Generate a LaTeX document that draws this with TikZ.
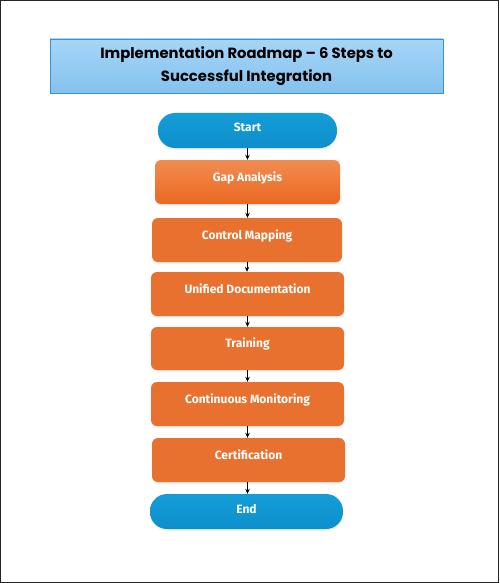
\documentclass[tikz,border=0pt]{standalone}
\usepackage{fontspec}
\setmainfont{Fira Sans}
\newfontfamily\titlefont{Poppins}
\usetikzlibrary{arrows.meta,shadows}
\definecolor{titletop}{HTML}{A6D5F8}
\definecolor{titlebot}{HTML}{84C2EE}
\definecolor{titleedge}{HTML}{3B92CC}
\definecolor{capblue}{HTML}{139DD7}
\definecolor{capblueb}{HTML}{0E8FCC}
\definecolor{boxorange}{HTML}{E8712F}
\definecolor{gaptop}{HTML}{F18C52}
\definecolor{gapbot}{HTML}{EB6820}
\tikzset{
  titlebox/.style={draw=titleedge, line width=0.9pt, top color=titletop, bottom color=titlebot,
    minimum width=393pt, minimum height=54pt, inner sep=0pt, align=center,
    font=\titlefont\bfseries\fontsize{14.8}{22.5}\selectfont},
  capbox/.style={rounded corners=17pt, top color=capblue, bottom color=capblueb, draw=none,
    minimum height=35pt, inner sep=0pt, text=white, font=\bfseries\fontsize{12}{12}\selectfont,
    drop shadow={shadow xshift=0pt, shadow yshift=-1.5pt, opacity=0.15}},
  stepbox/.style={rounded corners=6pt, fill=boxorange, draw=none,
    minimum height=44pt, inner sep=0pt, text=white, font=\bfseries\fontsize{12}{12}\selectfont,
    drop shadow={shadow xshift=0pt, shadow yshift=-1.5pt, opacity=0.15}},
  arr/.style={draw=black, line width=0.8pt, -{Stealth[length=5pt,width=4.5pt]}},
}
\newcommand{\up}[1]{\raisebox{1pt}[0pt][0pt]{#1}}
\newcommand{\upc}[1]{\raisebox{-1.5pt}[0pt][0pt]{#1}}
\begin{document}
\begin{tikzpicture}[x=1pt,y=-1pt]
\useasboundingbox (0,0) rectangle (499,583);
\draw[line width=0.9pt, black!85] (0.6,0.6) rectangle (498.2,582.2);
\node[titlebox] (title) at (246.5,66) {Implementation Roadmap – 6 Steps to\\Successful Integration};
\node[capbox, minimum width=179pt] (start) at (247.5,130.5) {\upc{Start}};
\node[stepbox, minimum width=185pt, rounded corners=6pt, fill=none, top color=gaptop, bottom color=gapbot] (gap) at (247.5,182) {\up{Gap Analysis}};
\node[stepbox, minimum width=190pt] (ctrl) at (247,240) {\up{Control Mapping}};
\node[stepbox, minimum width=193pt] (doc) at (247.5,294) {\up{Unified Documentation}};
\node[stepbox, minimum width=193pt, minimum height=43pt] (train) at (247.5,348.5) {\up{Training}};
\node[stepbox, minimum width=193pt] (mon) at (247.5,404) {\up{Continuous Monitoring}};
\node[stepbox, minimum width=193pt] (cert) at (248.5,460) {\up{Certification}};
\node[capbox, minimum width=193pt] (end) at (246.5,511.5) {\upc{End}};
\draw[arr] (start.south) -- (start.south |- gap.north);
\draw[arr] (gap.south) -- (gap.south |- ctrl.north);
\draw[arr] (ctrl.south) -- (ctrl.south |- doc.north);
\draw[arr] (doc.south) -- (doc.south |- train.north);
\draw[arr] (train.south) -- (train.south |- mon.north);
\draw[arr] (mon.south) -- (mon.south |- cert.north);
\draw[arr] (cert.south -| mon.south) -- (mon.south |- end.north);
\end{tikzpicture}
\end{document}
